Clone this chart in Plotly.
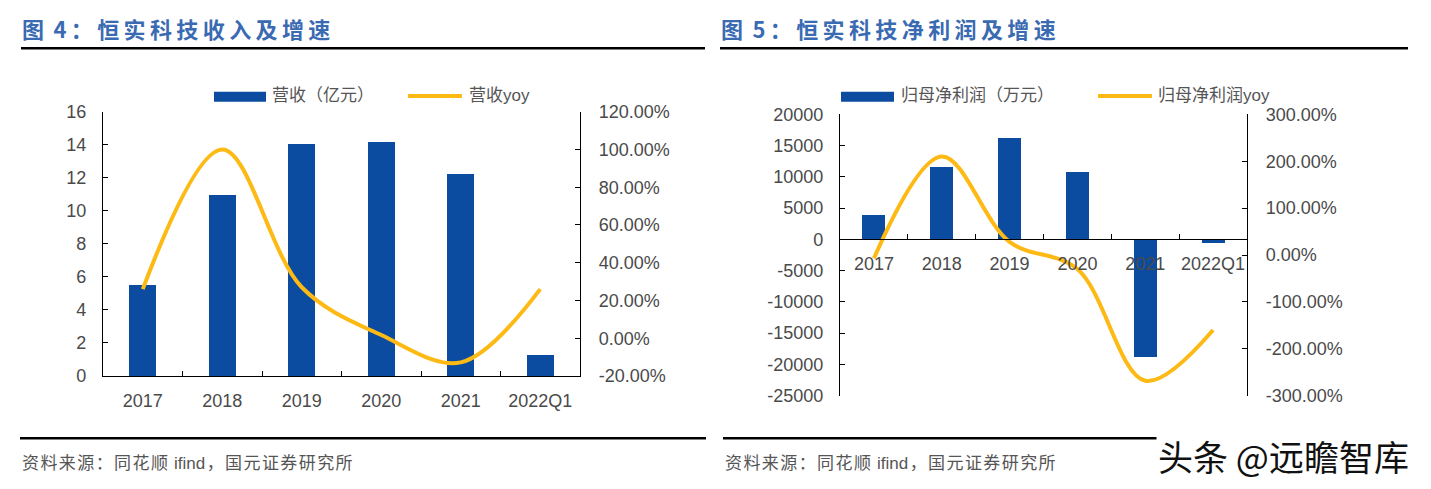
import plotly.graph_objects as go

W, H = 1431, 489

# ---------------- data ----------------
categories = ["2017", "2018", "2019", "2020", "2021", "2022Q1"]

revenue = [5.5, 10.95, 14.08, 14.2, 12.27, 1.27]          # 营收（亿元）
revenue_yoy = [0.26, 1.00, 0.27, 0.017, -0.128, 0.26]      # 营收yoy

profit = [3780, 11500, 16100, 10780, -18780, -550]         # 归母净利润（万元）
profit_yoy = [-0.07, 2.10, 0.28, -0.30, -2.68, -1.60]      # 归母净利润yoy

rev_ticks = [0, 2, 4, 6, 8, 10, 12, 14, 16]
rev_yoy_ticks = [-0.2, 0, 0.2, 0.4, 0.6, 0.8, 1.0, 1.2]
rev_yoy_text = ["-20.00%", "0.00%", "20.00%", "40.00%", "60.00%", "80.00%", "100.00%", "120.00%"]

prof_ticks = [-25000, -20000, -15000, -10000, -5000, 0, 5000, 10000, 15000, 20000]
prof_text = ["-25000", "-20000", "-15000", "-10000", "-5000", "0", "5000", "10000", "15000", "20000"]
prof_yoy_ticks = [-3, -2, -1, 0, 1, 2, 3]
prof_yoy_text = ["-300.00%", "-200.00%", "-100.00%", "0.00%", "100.00%", "200.00%", "300.00%"]

title1 = "图 4：恒实科技收入及增速"
title2 = "图 5：恒实科技净利润及增速"
leg1 = ["营收（亿元）", "营收yoy"]
leg2 = ["归母净利润（万元）", "归母净利润yoy"]
source = "资料来源：同花顺 ifind，国元证券研究所"
watermark = "头条 @远瞻智库"

# ---------------- styles ----------------
BLUE = "#0B4CA1"
YELLOW = "#FDB914"
TITLE_C = "#3A6BB2"
TXT = "#4a4a4a"
NUM_FONT = "Liberation Sans, Arial, sans-serif"
CJK_FONT = "Liberation Sans, Noto Sans CJK SC, sans-serif"


def px(x):
    return x / W


def py(y):
    return 1 - y / H


def is_cjk(ch):
    return ord(ch) > 0x2E80


def spaced(s, sp):
    out = ""
    for i, ch in enumerate(s):
        out += ch
        if i < len(s) - 1 and (is_cjk(ch) or is_cjk(s[i + 1])):
            out += sp
    return out


# plot areas (pixels)
c1_x0, c1_x1, c1_top, c1_bot = 103, 580, 111.7, 376
c2_x0, c2_x1, c2_top, c2_bot = 840, 1247, 114.3, 395.7

c2_dom = [py(c2_bot), py(c2_top)]
zero_frac = (0 - prof_ticks[0]) / (prof_ticks[-1] - prof_ticks[0])
c2_zero = c2_dom[0] + (c2_dom[1] - c2_dom[0]) * zero_frac

fig = go.Figure()

fig.add_trace(go.Bar(x=categories, y=revenue, marker_color=BLUE, width=0.34,
                     xaxis="x", yaxis="y", showlegend=False))
fig.add_trace(go.Scatter(x=categories, y=revenue_yoy, mode="lines",
                         line=dict(color=YELLOW, width=4, shape="spline", smoothing=1.0),
                         xaxis="x", yaxis="y2", showlegend=False))
fig.add_trace(go.Bar(x=categories, y=profit, marker_color=BLUE, width=0.34,
                     xaxis="x2", yaxis="y3", showlegend=False))
fig.add_trace(go.Scatter(x=categories, y=profit_yoy, mode="lines",
                         line=dict(color=YELLOW, width=4, shape="spline", smoothing=1.0),
                         xaxis="x2", yaxis="y4", showlegend=False))

axis_common = dict(showgrid=False, zeroline=False, showline=True, linecolor="#000000",
                   linewidth=1.3, ticks="inside", ticklen=5, tickwidth=1.3,
                   automargin=False, tickangle=0,
                   tickcolor="#000000", tickfont=dict(family=NUM_FONT, size=18, color=TXT))

fig.update_layout(
    template="none",
    width=W, height=H,
    margin=dict(l=0, r=0, t=0, b=0, pad=0, autoexpand=False),
    paper_bgcolor="white", plot_bgcolor="rgba(0,0,0,0)",
    bargap=0,
    xaxis=dict(axis_common, domain=[px(c1_x0), px(c1_x1)], anchor="y",
               type="category", tickson="boundaries", ticklabelstandoff=8,
               range=[-0.5, 5.5]),
    yaxis=dict(axis_common, domain=[py(c1_bot), py(c1_top)], anchor="x",
               range=[0, 16], tickvals=rev_ticks, ticklabelstandoff=12),
    yaxis2=dict(axis_common, overlaying="y", side="right", anchor="x",
                range=[-0.2, 1.2], tickvals=rev_yoy_ticks, ticktext=rev_yoy_text,
                ticklabelstandoff=14),
    xaxis2=dict(axis_common, domain=[px(c2_x0), px(c2_x1)], anchor="free",
                position=c2_zero, type="category", tickson="boundaries",
                ticklabelstandoff=8, range=[-0.5, 5.5]),
    yaxis3=dict(axis_common, domain=c2_dom, anchor="x2",
                range=[-25000, 20000], tickvals=prof_ticks, ticktext=prof_text,
                ticklabelstandoff=12),
    yaxis4=dict(axis_common, overlaying="y3", side="right", anchor="x2",
                range=[-3, 3], tickvals=prof_yoy_ticks, ticktext=prof_yoy_text,
                ticklabelstandoff=14),
)

shapes = []
annotations = []

# titles and rules
for tx, title, lx0, lx1 in [(20, title1, 21, 705), (719, title2, 720, 1408)]:
    annotations.append(dict(x=px(tx), y=py(28), xref="paper", yref="paper",
                            text="<b>" + spaced(title, "\u2009") + "</b>", showarrow=False,
                            xanchor="left", yanchor="middle",
                            font=dict(family="Noto Sans CJK SC, sans-serif", size=22, color=TITLE_C)))
    shapes.append(dict(type="line", xref="paper", yref="paper",
                       x0=px(lx0), x1=px(lx1), y0=py(48.3), y1=py(48.3),
                       line=dict(color="#000000", width=2.6)))

# bottom rules and sources
for lx0, lx1, sx in [(20, 706, 20), (723, 1408, 723)]:
    shapes.append(dict(type="line", xref="paper", yref="paper",
                       x0=px(lx0), x1=px(lx1), y0=py(438.3), y1=py(438.3),
                       line=dict(color="#000000", width=2.6)))
    annotations.append(dict(x=px(sx), y=py(463), xref="paper", yref="paper",
                            text=spaced(source, "\u200a"), showarrow=False, xanchor="left",
                            yanchor="middle",
                            font=dict(family=CJK_FONT, size=17, color="#555555")))

# legends (manual)
for (bx0, bx1, tx1, lx0, lx1, tx2, labels) in [
        (214, 266, 270, 408, 462, 467, leg1),
        (841, 894, 899, 1098, 1152, 1156, leg2)]:
    shapes.append(dict(type="rect", xref="paper", yref="paper",
                       x0=px(bx0), x1=px(bx1), y0=py(101.7), y1=py(91.7),
                       fillcolor=BLUE, line=dict(width=0)))
    shapes.append(dict(type="line", xref="paper", yref="paper",
                       x0=px(lx0), x1=px(lx1), y0=py(96), y1=py(96),
                       line=dict(color=YELLOW, width=4)))
    for tx, lab in [(tx1, labels[0]), (tx2, labels[1])]:
        annotations.append(dict(x=px(tx), y=py(96), xref="paper", yref="paper",
                                text=lab, showarrow=False, xanchor="left", yanchor="middle",
                                font=dict(family=CJK_FONT, size=17, color="#555555")))

# watermark
annotations.append(dict(x=px(1283), y=py(455), xref="paper", yref="paper",
                        text=watermark, showarrow=False, xanchor="center", yanchor="middle",
                        bgcolor="white",
                        font=dict(family="Noto Sans CJK SC, sans-serif", size=35, color="#111111")))

fig.update_layout(shapes=shapes, annotations=annotations)
fig.write_html("out.html",
               config={"displayModeBar": False},
               post_script="document.body.style.margin='0';document.body.style.overflow='hidden';")
